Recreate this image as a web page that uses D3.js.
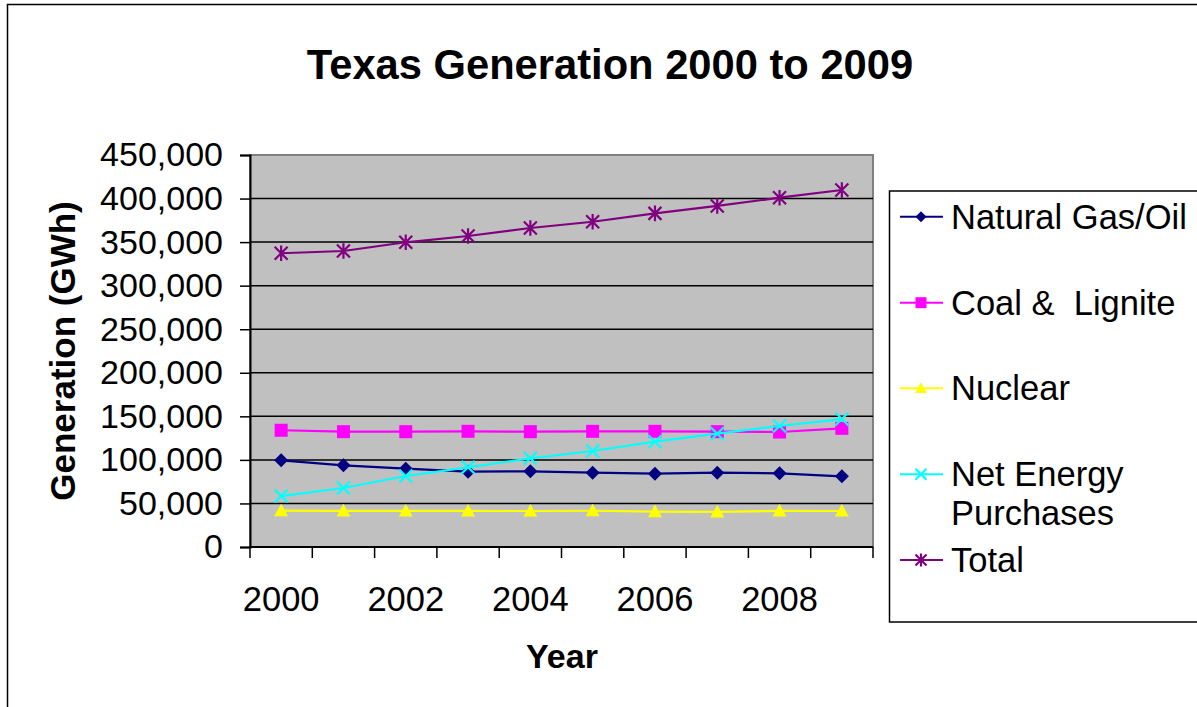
<!DOCTYPE html>
<html><head><meta charset="utf-8">
<script src="https://cdn.jsdelivr.net/npm/d3@7"></script>
<style>
html,body{margin:0;padding:0;background:#fff;}
svg{display:block;font-family:"Liberation Sans",Arial,sans-serif;}
text{white-space:pre;}
</style></head><body>
<svg id="c" width="1197" height="707"></svg>
<script>
const years = [2000,2001,2002,2003,2004,2005,2006,2007,2008,2009];
const tickYears = [2000,2002,2004,2006,2008];
const yTicks = [0,50000,100000,150000,200000,250000,300000,350000,400000,450000];
const gasOil   = [99500,93800,89900,86500,86900,85300,84200,85300,84600,81100];
const coal     = [134000,132400,132400,132800,132400,132800,132800,132400,132000,136200];
const nuclear  = [41700,41500,41400,41400,41300,41600,40700,40300,41500,41300];
const netPurch = [58500,67700,81500,91500,101800,110200,120900,130100,138900,146900];
const total    = [337200,339800,349800,357000,366200,373400,383000,391500,401000,409800];
const seriesNames = ["Natural Gas/Oil","Coal &  Lignite","Nuclear","Net Energy\nPurchases","Total"];

const series = [
  {name:seriesNames[0], values:gasOil,   color:"#000080", marker:"diamond"},
  {name:seriesNames[1], values:coal,     color:"#ff00ff", marker:"square"},
  {name:seriesNames[2], values:nuclear,  color:"#ffff00", marker:"triangle"},
  {name:seriesNames[3], values:netPurch, color:"#00ffff", marker:"x"},
  {name:seriesNames[4], values:total,    color:"#800080", marker:"star"}
];

const svg = d3.select("#c");
const L=250, R=873, T=155, B=547;

// outer frame
svg.append("rect").attr("x",7.5).attr("y",4.5).attr("width",1250).attr("height",760)
  .attr("fill","#fff").attr("stroke","#000").attr("stroke-width",1.5);

const x = d3.scaleBand().domain(years).range([L,R]).padding(0);
const y = d3.scaleLinear().domain([0,450000]).range([B,T]);
const cx = d => x(d)+x.bandwidth()/2;

// plot area
svg.append("rect").attr("x",L).attr("y",T).attr("width",R-L).attr("height",B-T)
  .attr("fill","#c0c0c0").attr("stroke","#808080").attr("stroke-width",2);

// gridlines
svg.append("g").selectAll("line").data(yTicks.filter(v=>v>0 && v<450000)).join("line")
  .attr("x1",L).attr("x2",R).attr("y1",d=>y(d)).attr("y2",d=>y(d))
  .attr("stroke","#000").attr("stroke-width",1.5);

// y axis
const yAxis = svg.append("g").attr("transform",`translate(${L},0)`)
  .call(d3.axisLeft(y).tickValues(yTicks).tickFormat(d3.format(",")).tickSize(10).tickPadding(17));
yAxis.select(".domain").attr("stroke","#000").attr("stroke-width",2);
yAxis.selectAll(".tick line").attr("stroke","#000").attr("stroke-width",1.5);
yAxis.selectAll("text").attr("font-size",34).attr("fill","#000")
  .attr("font-family","Liberation Sans, Arial, sans-serif");

// x axis line
svg.append("line").attr("x1",L).attr("x2",R).attr("y1",B).attr("y2",B)
  .attr("stroke","#000").attr("stroke-width",2);
const bounds = years.map(d=>x(d)).concat([x(years[years.length-1])+x.bandwidth()]);
svg.append("g").selectAll("line").data(bounds).join("line")
  .attr("x1",d=>d).attr("x2",d=>d).attr("y1",B).attr("y2",B+11)
  .attr("stroke","#000").attr("stroke-width",1.5);
const xAxis = svg.append("g").attr("transform",`translate(0,${B})`)
  .call(d3.axisBottom(x).tickValues(tickYears).tickSize(0).tickPadding(40));
xAxis.select(".domain").remove();
xAxis.selectAll("text").attr("font-size",34.5).attr("fill","#000")
  .attr("font-family","Liberation Sans, Arial, sans-serif");

// markers
function drawMarker(g, type, px, py, s, color){
  if(type==="diamond"){
    g.append("path").attr("d",`M${px},${py-s}L${px+s},${py}L${px},${py+s}L${px-s},${py}Z`).attr("fill",color);
  } else if(type==="square"){
    g.append("rect").attr("x",px-s).attr("y",py-s).attr("width",2*s).attr("height",2*s).attr("fill",color);
  } else if(type==="triangle"){
    g.append("path").attr("d",`M${px},${py-s}L${px+s},${py+s*0.8}L${px-s},${py+s*0.8}Z`).attr("fill",color);
  } else if(type==="x"){
    g.append("path").attr("d",`M${px-s},${py-s}L${px+s},${py+s}M${px-s},${py+s}L${px+s},${py-s}`)
      .attr("stroke",color).attr("stroke-width",2.2).attr("fill","none");
  } else if(type==="star"){
    g.append("path").attr("d",`M${px-s},${py-s}L${px+s},${py+s}M${px-s},${py+s}L${px+s},${py-s}M${px},${py-s*1.2}L${px},${py+s*1.2}`)
      .attr("stroke",color).attr("stroke-width",2.2).attr("fill","none");
  }
}
const markerSize = {diamond:7,square:6.5,triangle:7,x:6.5,star:6.5};

const line = d3.line().x((d,i)=>cx(years[i])).y(d=>y(d));
series.forEach(s=>{
  const g = svg.append("g");
  g.append("path").datum(s.values).attr("d",line).attr("fill","none")
    .attr("stroke",s.color).attr("stroke-width",2.2);
  s.values.forEach((v,i)=>drawMarker(g,s.marker,cx(years[i]),y(v),markerSize[s.marker],s.color));
});

// title
svg.append("text").attr("x",610).attr("y",79).attr("text-anchor","middle")
  .attr("font-size",41.7).attr("font-weight","bold").text("Texas Generation 2000 to 2009");
// axis titles
svg.append("text").attr("x",562).attr("y",668).attr("text-anchor","middle")
  .attr("font-size",34).attr("font-weight","bold").text("Year");
svg.append("text").attr("transform",`translate(75,${(T+B)/2}) rotate(-90)`).attr("text-anchor","middle")
  .attr("font-size",35).attr("font-weight","bold").text("Generation (GWh)");

// legend
svg.append("rect").attr("x",889.5).attr("y",191).attr("width",400).attr("height",431)
  .attr("fill","#fff").attr("stroke","#000").attr("stroke-width",1.5);
const legRows = [216.7, 302.7, 388.3, 474.3, 560];
const legMarker = {diamond:5.5,square:5.5,triangle:6,x:5.5,star:5.5};
series.forEach((s,i)=>{
  const yy = legRows[i];
  const g = svg.append("g");
  g.append("line").attr("x1",900).attr("x2",943).attr("y1",yy).attr("y2",yy)
    .attr("stroke",s.color).attr("stroke-width",2);
  drawMarker(g,s.marker,921,yy,legMarker[s.marker],s.color);
  const lines = s.name.split("\n");
  const t = g.append("text").attr("x",951).attr("y",yy+12).attr("font-size",34.5).attr("fill","#000");
  lines.forEach((ln,j)=>t.append("tspan").attr("x",951).attr("dy",j===0?0:38.5).text(ln));
});
</script>
</body></html>
